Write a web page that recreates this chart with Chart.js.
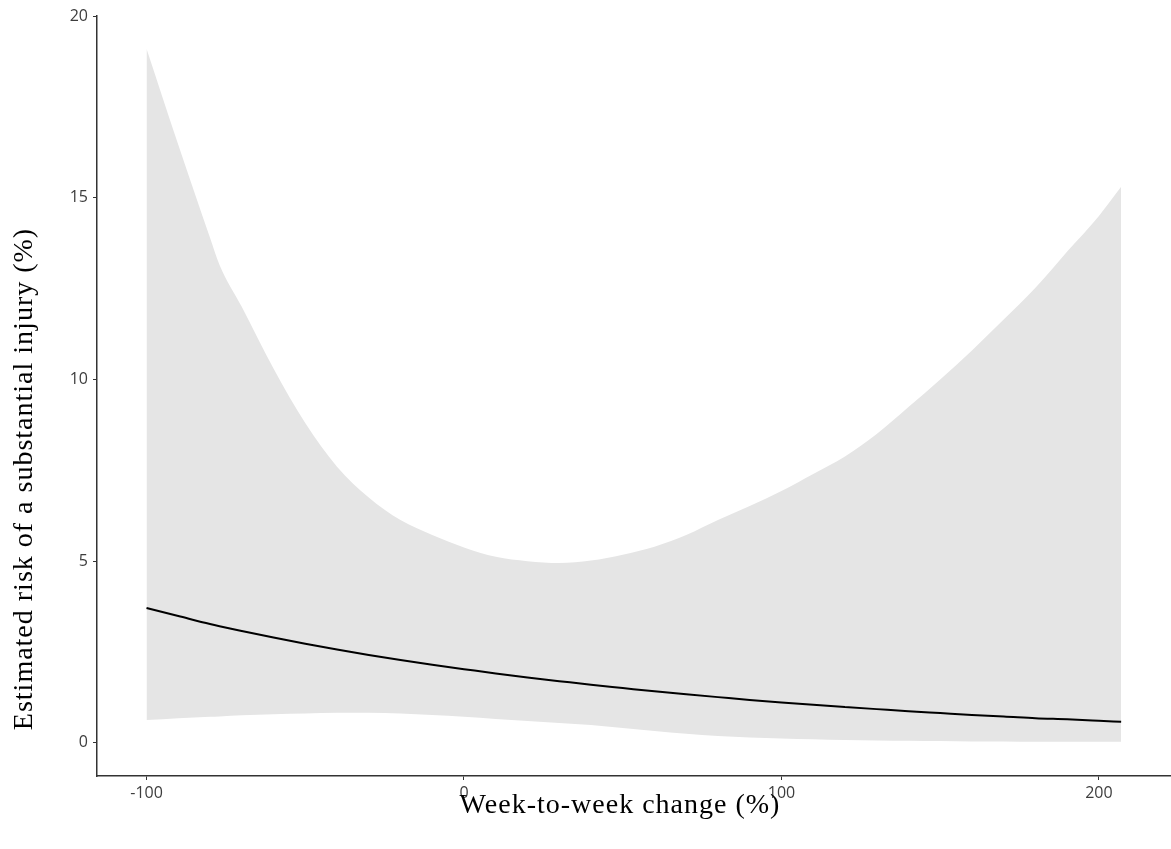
<!DOCTYPE html>
<html>
<head>
<meta charset="utf-8">
<script src="https://cdn.jsdelivr.net/npm/chart.js@4"></script>
<style>
  html, body { margin: 0; background: #fff; }
  #wrap { width: 1171px; height: 849px; position: relative; }
</style>
</head>
<body>
<div id="wrap"><canvas id="risk"></canvas></div>
<script>
const weekChange = [-100, -90, -80, -77, -70, -60, -50, -40, -30, -20, -10, 0, 10, 20, 30, 40, 50, 60, 70, 80, 90, 100, 110, 120, 130, 140, 150, 160, 170, 180, 190, 200, 207];
const riskEstimate = [3.71, 3.49, 3.27, 3.21, 3.08, 2.90, 2.73, 2.57, 2.42, 2.28, 2.15, 2.03, 1.91, 1.80, 1.70, 1.60, 1.51, 1.42, 1.34, 1.26, 1.18, 1.11, 1.05, 0.99, 0.93, 0.87, 0.82, 0.77, 0.73, 0.68, 0.65, 0.61, 0.58];
const riskLower = [0.63, 0.68, 0.72, 0.73, 0.76, 0.79, 0.81, 0.83, 0.83, 0.81, 0.77, 0.72, 0.66, 0.60, 0.55, 0.49, 0.41, 0.33, 0.25, 0.19, 0.15, 0.12, 0.10, 0.08, 0.07, 0.06, 0.05, 0.04, 0.04, 0.03, 0.03, 0.03, 0.03];
const riskUpper = [19.1, 16.46, 13.9, 13.15, 12.0, 10.3, 8.8, 7.6, 6.75, 6.13, 5.72, 5.38, 5.12, 5.0, 4.95, 5.02, 5.18, 5.4, 5.72, 6.13, 6.52, 6.93, 7.4, 7.88, 8.5, 9.24, 10.0, 10.8, 11.65, 12.52, 13.52, 14.5, 15.3];

const xTicks = [-100, 0, 100, 200];
const yTicks = [0, 5, 10, 15, 20];
const xTitle = "Week-to-week change (%)";
const yTitle = "Estimated risk of a substantial injury (%)";

const toPoints = ys => weekChange.map((x, i) => ({ x: x, y: ys[i] }));

// axis titles sit off-centre in the original, so they are drawn by hand
const axisTitles = {
  id: "axisTitles",
  afterDraw(chart) {
    const ctx = chart.ctx;
    ctx.save();
    ctx.fillStyle = "#000";
    ctx.font = '28px "Liberation Serif", "Times New Roman", serif';
    if ("letterSpacing" in ctx) ctx.letterSpacing = "1px";
    ctx.textAlign = "center";
    ctx.textBaseline = "middle";
    ctx.fillText(xTitle, 620, 806);
    ctx.translate(25, 479);
    ctx.rotate(-Math.PI / 2);
    ctx.fillText(yTitle, 0, 0);
    ctx.restore();
  }
};

const tickFont = { family: "'Open Sans', sans-serif", size: 16 };

const config = {
  type: "line",
  data: {
    datasets: [
      {
        label: "lower",
        data: toPoints(riskLower),
        borderWidth: 0,
        pointRadius: 0,
        fill: false,
        order: 2,
        cubicInterpolationMode: "monotone"
      },
      {
        label: "upper",
        data: toPoints(riskUpper),
        borderWidth: 0,
        pointRadius: 0,
        backgroundColor: "#e5e5e5",
        fill: "-1",
        order: 2,
        cubicInterpolationMode: "monotone"
      },
      {
        label: "estimate",
        data: toPoints(riskEstimate),
        borderColor: "#000",
        borderWidth: 2,
        pointRadius: 0,
        fill: false,
        order: 0,
        cubicInterpolationMode: "monotone"
      }
    ]
  },
  options: {
    responsive: true,
    maintainAspectRatio: false,
    animation: false,
    layout: { padding: { top: 16, right: 0, left: 0, bottom: 0 } },
    plugins: {
      legend: false,
      title: false,
      tooltip: { enabled: false }
    },
    scales: {
      x: {
        type: "linear",
        min: -115.6,
        max: 222.7,
        afterBuildTicks: s => { s.ticks = xTicks.map(v => ({ value: v })); },
        afterFit: s => { s.height = 73; },
        grid: { drawOnChartArea: false, tickLength: 4, tickColor: "#333", tickWidth: 1 },
        border: { color: "#333", width: 1.5 },
        ticks: { color: "#3d3d3d", font: tickFont, padding: 4, maxRotation: 0 }
      },
      y: {
        min: -0.91,
        max: 20,
        afterBuildTicks: s => { s.ticks = yTicks.map(v => ({ value: v })); },
        afterFit: s => { s.width = 97; },
        grid: { drawOnChartArea: false, tickLength: 4, tickColor: "#333", tickWidth: 1 },
        border: { color: "#333", width: 1.5 },
        ticks: { color: "#3d3d3d", font: tickFont, padding: 5 }
      }
    }
  },
  plugins: [axisTitles]
};

const riskChart = new Chart("risk", config);
</script>
</body>
</html>
